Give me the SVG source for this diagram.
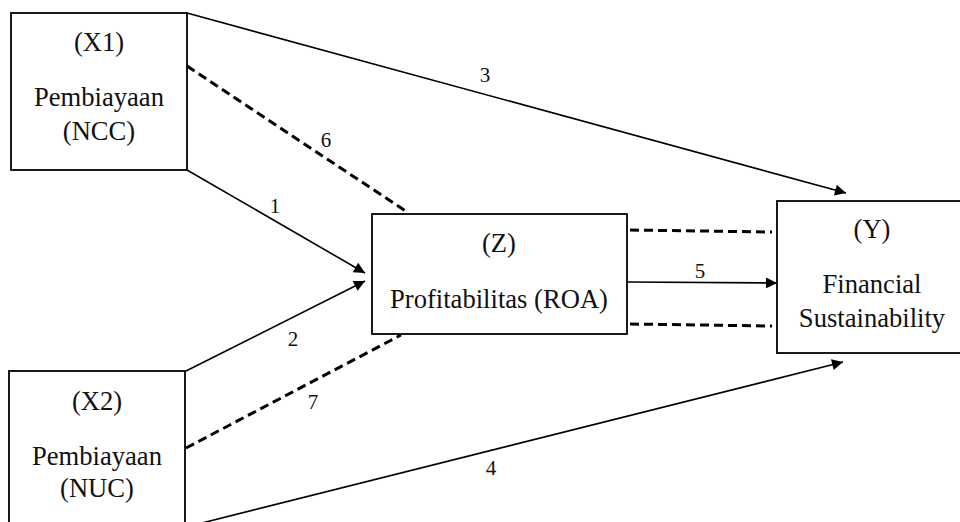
<svg xmlns="http://www.w3.org/2000/svg" width="960" height="522" viewBox="0 0 960 522">
<style>
.box{fill:#fff;stroke:#000;stroke-width:1.8}
text{font-family:'Liberation Serif','Times New Roman',serif;fill:#111;text-anchor:middle}
.t{font-size:26.6px}
.lbl{font-size:21px}
.solid{stroke:#000;stroke-width:1.6;fill:none}
.dash{stroke:#000;stroke-width:3;stroke-dasharray:9 5;fill:none}
</style>
<defs>
<marker id="arr" viewBox="0 0 10 10" refX="10" refY="5" markerWidth="15" markerHeight="11" markerUnits="userSpaceOnUse" orient="auto">
<path d="M0,0 L10,5 L0,10 z" fill="#000"/>
</marker>
</defs>
<rect width="960" height="522" fill="#fff"/>
<g id="connectors">
<line class="solid" x1="187" y1="13" x2="846" y2="193" marker-end="url(#arr)"/>
<line class="solid" x1="187" y1="170" x2="365" y2="273" marker-end="url(#arr)"/>
<line class="solid" x1="186" y1="371" x2="365" y2="281" marker-end="url(#arr)"/>
<line class="solid" x1="186" y1="527" x2="843" y2="362" marker-end="url(#arr)"/>
<line class="solid" x1="627" y1="282" x2="777" y2="283" marker-end="url(#arr)"/>
<line class="dash" x1="187" y1="66" x2="407" y2="212"/>
<line class="dash" x1="186" y1="448" x2="401" y2="335"/>
<line class="dash" x1="630" y1="230" x2="772" y2="232"/>
<line class="dash" x1="630" y1="324" x2="772" y2="326"/>
<text class="lbl" x="485" y="82">3</text>
<text class="lbl" x="275" y="213">1</text>
<text class="lbl" x="293" y="346">2</text>
<text class="lbl" x="326" y="147">6</text>
<text class="lbl" x="313" y="409">7</text>
<text class="lbl" x="491" y="475">4</text>
<text class="lbl" x="700" y="278">5</text>
</g>
<g id="X1">
<rect class="box" x="11" y="13" width="176" height="157"/>
<text class="t" x="99" y="51">(X1)</text>
<text class="t" x="99" y="106">Pembiayaan</text>
<text class="t" x="99" y="140">(NCC)</text>
</g>
<g id="X2">
<rect class="box" x="9" y="371" width="176" height="170"/>
<text class="t" x="97" y="410">(X2)</text>
<text class="t" x="97" y="465">Pembiayaan</text>
<text class="t" x="97" y="497">(NUC)</text>
</g>
<g id="Z">
<rect class="box" x="372" y="214" width="255" height="120"/>
<text class="t" x="499" y="252">(Z)</text>
<text class="t" x="499" y="308">Profitabilitas (ROA)</text>
</g>
<g id="Y">
<rect class="box" x="777" y="201" width="195" height="152"/>
<text class="t" x="872" y="238">(Y)</text>
<text class="t" x="872" y="293">Financial</text>
<text class="t" x="872" y="327">Sustainability</text>
</g>
</svg>
